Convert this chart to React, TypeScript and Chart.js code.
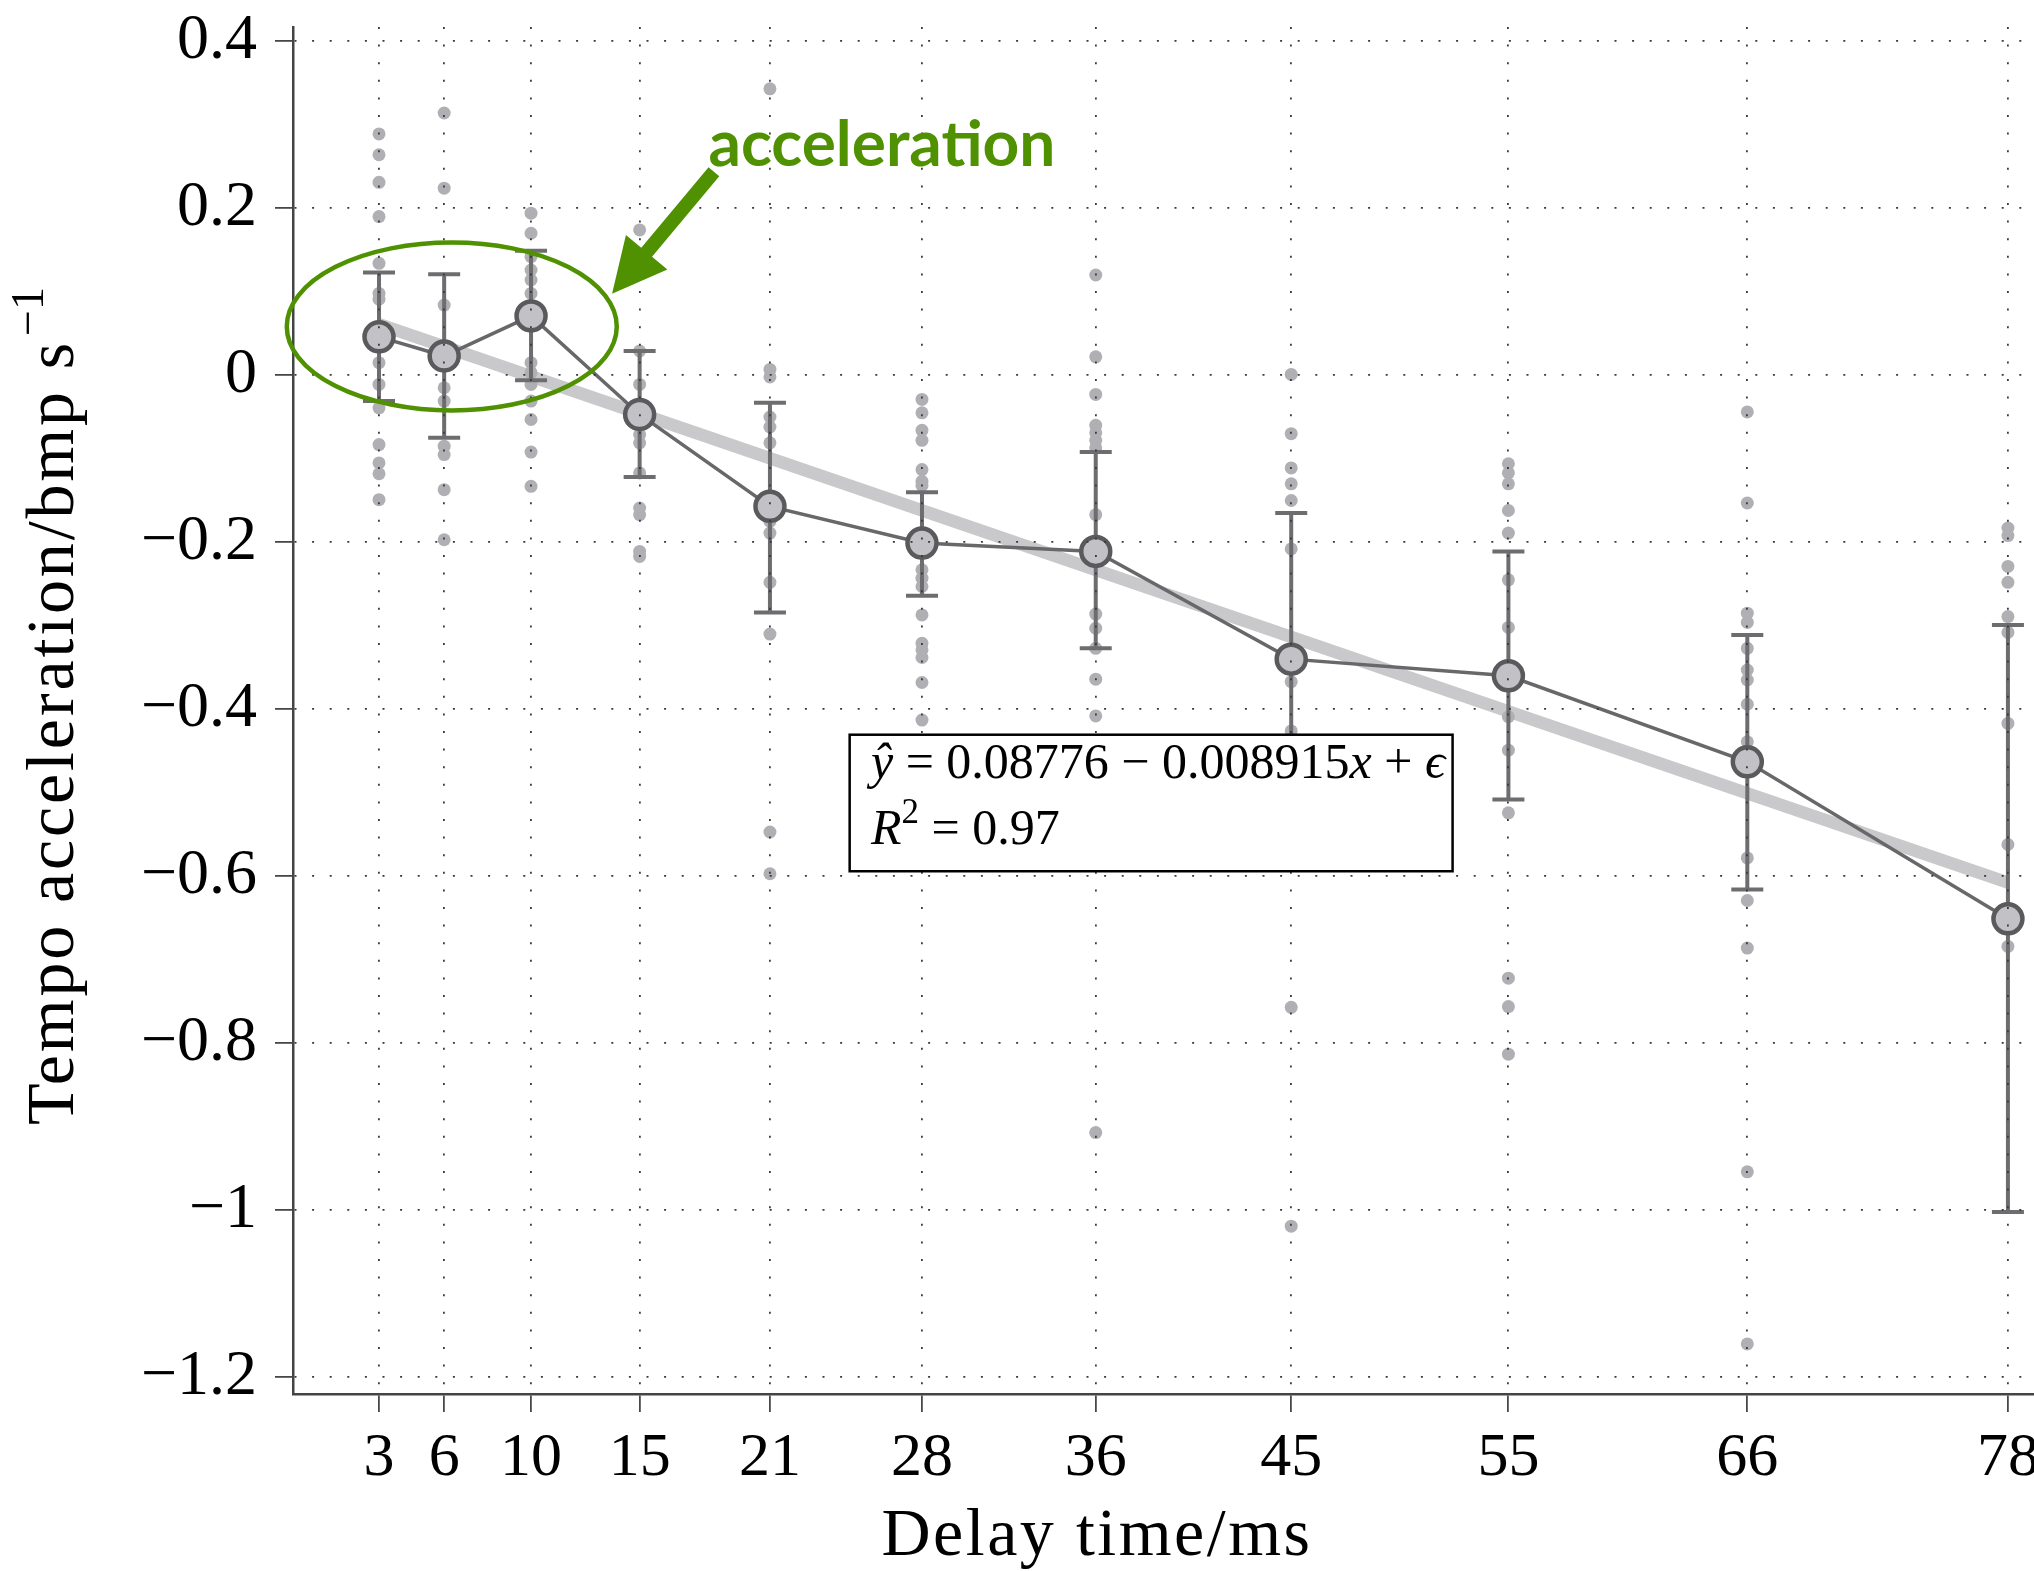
import React, { useEffect, useRef } from "react";
import { Chart, registerables } from "chart.js";

Chart.register(...registerables);

// ---------------- data ----------------
const delays = [3, 6, 10, 15, 21, 28, 36, 45, 55, 66, 78];
const meanAccel = [0.046, 0.023, 0.071, -0.047, -0.157, -0.201, -0.211, -0.34, -0.36, -0.463, -0.651];
const errUpper = [0.123, 0.121, 0.149, 0.029, -0.033, -0.14, -0.092, -0.165, -0.211, -0.311, -0.299];
const errLower = [-0.031, -0.075, -0.006, -0.122, -0.284, -0.264, -0.327, -0.515, -0.508, -0.616, -1.002];

const raw3 = [0.289, 0.264, 0.231, 0.19, 0.134, 0.098, 0.091, 0.015, -0.011, -0.039, -0.083, -0.105, -0.118, -0.149];
const raw6 = [0.314, 0.224, 0.084, -0.015, -0.031, -0.085, -0.095, -0.137, -0.197];
const raw10 = [0.194, 0.17, 0.142, 0.126, 0.114, 0.098, 0.015, 0.003, -0.011, -0.031, -0.053, -0.092, -0.133];
const raw15 = [0.174, 0.029, -0.011, -0.071, -0.081, -0.117, -0.159, -0.167, -0.211, -0.217];
const raw21 = [0.343, 0.007, -0.002, -0.05, -0.062, -0.081, -0.175, -0.189, -0.248, -0.31, -0.547, -0.597];
const raw28 = [-0.029, -0.045, -0.066, -0.078, -0.113, -0.127, -0.132, -0.233, -0.243, -0.253, -0.287, -0.321, -0.329, -0.338, -0.368, -0.413];
const raw36 = [0.12, 0.022, -0.023, -0.06, -0.069, -0.078, -0.087, -0.167, -0.286, -0.303, -0.327, -0.364, -0.408, -0.907];
const raw45 = [0.001, -0.07, -0.111, -0.13, -0.15, -0.208, -0.367, -0.426, -0.757, -1.019];
const raw55 = [-0.106, -0.117, -0.13, -0.162, -0.189, -0.245, -0.302, -0.409, -0.449, -0.524, -0.722, -0.756, -0.813];
const raw66 = [-0.044, -0.153, -0.285, -0.296, -0.327, -0.353, -0.365, -0.394, -0.439, -0.578, -0.629, -0.686, -0.954, -1.16];
const raw78 = [-0.183, -0.192, -0.229, -0.248, -0.289, -0.308, -0.417, -0.562, -0.684];
const rawByDelay = [raw3, raw6, raw10, raw15, raw21, raw28, raw36, raw45, raw55, raw66, raw78];

const yTickValues = [0.4, 0.2, 0, -0.2, -0.4, -0.6, -0.8, -1, -1.2];
const xTickValues = delays;

// fitted regression (from the equation shown in the chart)
const fitIntercept = 0.08776;
const fitSlope = -0.008915;
const fitRange = [3, 78];

const xTitle = "Delay time/ms";
const yTitle = "Tempo acceleration/bmp s";
const yTitleSup = "\u22121";
const annotationText = "acceleration";

// annotation anchors in data coordinates
const ellipseCenter = [6.35, 0.0584];
const arrowTail = [18.42, 0.2437];
const arrowTip = [13.73, 0.0976];
const annotationAnchor = [26.16, 0.251];
const boxTopLeft = [24.67, -0.4305];
const boxBottomRight = [52.43, -0.594];
const eqLine1Anchor = [25.65, -0.482];
const eqLine2Anchor = [25.65, -0.5615];

// ---------------- style ----------------
const W = 2034;
const H = 1571;
const SERIF = '"Liberation Serif", "Times New Roman", serif';
const GREEN = "#4f9100";

type Run = { t: string; it?: boolean; sup?: boolean };

function drawRuns(ctx: CanvasRenderingContext2D, runs: Run[], x: number, y: number, size: number) {
  let cx = x;
  for (const r of runs) {
    const s = r.sup ? size * 0.7 : size;
    ctx.font = `${r.it ? "italic " : ""}${s}px ${SERIF}`;
    ctx.fillText(r.t, cx, r.sup ? y - size * 0.42 : y);
    cx += ctx.measureText(r.t).width;
  }
}

const errorBarPlugin = {
  id: "errorBars",
  beforeDatasetDraw(chart: any, args: any) {
    if (args.index !== 0) return;
    const { ctx } = chart;
    const xs = chart.scales.x;
    const ys = chart.scales.y;
    ctx.save();
    ctx.strokeStyle = "#6d6d70";
    ctx.lineWidth = 4;
    delays.forEach((d, i) => {
      const px = xs.getPixelForValue(d);
      const pTop = ys.getPixelForValue(errUpper[i]);
      const pBot = ys.getPixelForValue(errLower[i]);
      ctx.beginPath();
      ctx.moveTo(px, pTop);
      ctx.lineTo(px, pBot);
      ctx.moveTo(px - 16, pTop);
      ctx.lineTo(px + 16, pTop);
      ctx.moveTo(px - 16, pBot);
      ctx.lineTo(px + 16, pBot);
      ctx.stroke();
    });
    ctx.restore();
  },
};

const annotationPlugin = {
  id: "annotations",
  afterDraw(chart: any) {
    const { ctx } = chart;
    const xs = chart.scales.x;
    const ys = chart.scales.y;
    const px = (v: number) => xs.getPixelForValue(v);
    const py = (v: number) => ys.getPixelForValue(v);
    ctx.save();

    // green ellipse
    ctx.strokeStyle = GREEN;
    ctx.lineWidth = 4.5;
    ctx.beginPath();
    ctx.ellipse(px(ellipseCenter[0]), py(ellipseCenter[1]), 165, 84, 0, 0, Math.PI * 2);
    ctx.stroke();

    // arrow
    const tx = px(arrowTail[0]);
    const ty = py(arrowTail[1]);
    const hx = px(arrowTip[0]);
    const hy = py(arrowTip[1]);
    const dx = hx - tx;
    const dy = hy - ty;
    const L = Math.hypot(dx, dy);
    const ux = dx / L;
    const uy = dy / L;
    const nx = -uy;
    const ny = ux;
    const headLen = 54;
    const headHalf = 27;
    const shaftHalf = 7;
    const bx = hx - ux * headLen;
    const by = hy - uy * headLen;
    ctx.fillStyle = GREEN;
    ctx.beginPath();
    ctx.moveTo(tx + nx * shaftHalf, ty + ny * shaftHalf);
    ctx.lineTo(bx + nx * shaftHalf, by + ny * shaftHalf);
    ctx.lineTo(bx + nx * headHalf, by + ny * headHalf);
    ctx.lineTo(hx, hy);
    ctx.lineTo(bx - nx * headHalf, by - ny * headHalf);
    ctx.lineTo(bx - nx * shaftHalf, by - ny * shaftHalf);
    ctx.lineTo(tx - nx * shaftHalf, ty - ny * shaftHalf);
    ctx.closePath();
    ctx.fill();

    // "acceleration"
    ctx.font = `bold 64px Lato, "Open Sans", sans-serif`;
    ctx.textAlign = "center";
    ctx.textBaseline = "alphabetic";
    ctx.fillText(annotationText, px(annotationAnchor[0]), py(annotationAnchor[1]));

    // equation box
    const bl = px(boxTopLeft[0]);
    const bt = py(boxTopLeft[1]);
    const br = px(boxBottomRight[0]);
    const bb = py(boxBottomRight[1]);
    ctx.fillStyle = "#ffffff";
    ctx.fillRect(bl, bt, br - bl, bb - bt);
    ctx.strokeStyle = "#000000";
    ctx.lineWidth = 2.5;
    ctx.strokeRect(bl, bt, br - bl, bb - bt);
    ctx.fillStyle = "#000000";
    ctx.textAlign = "left";
    drawRuns(
      ctx,
      [
        { t: "\u0177", it: true },
        { t: " = 0.08776 \u2212 0.008915" },
        { t: "x", it: true },
        { t: " + " },
        { t: "\u03F5", it: true },
      ],
      px(eqLine1Anchor[0]),
      py(eqLine1Anchor[1]),
      50
    );
    drawRuns(
      ctx,
      [{ t: "R", it: true }, { t: "2", sup: true }, { t: " = 0.97" }],
      px(eqLine2Anchor[0]),
      py(eqLine2Anchor[1]),
      50
    );

    // x title
    ctx.font = `68px ${SERIF}`;
    (ctx as any).letterSpacing = "0px";
    const wx = ctx.measureText(xTitle).width;
    const lsx = (431 - wx) / xTitle.length;
    (ctx as any).letterSpacing = `${lsx}px`;
    ctx.textAlign = "center";
    ctx.textBaseline = "alphabetic";
    ctx.fillText(xTitle, 1097, 1555);

    // y title (rotated, with superscript)
    ctx.save();
    ctx.translate(73, 1125);
    ctx.rotate(-Math.PI / 2);
    ctx.textAlign = "left";
    ctx.font = `68px ${SERIF}`;
    (ctx as any).letterSpacing = "0px";
    const wy = ctx.measureText(yTitle).width;
    const lsy = (785 - wy) / yTitle.length;
    (ctx as any).letterSpacing = `${lsy}px`;
    ctx.fillText(yTitle, 0, 0);
    const wy2 = ctx.measureText(yTitle).width;
    (ctx as any).letterSpacing = "0px";
    ctx.font = `46px ${SERIF}`;
    ctx.fillText(yTitleSup, wy2 + 4, -30);
    ctx.restore();

    ctx.restore();
  },
};

function fmtY(v: number): string {
  if (v === 0) return "0";
  const s = String(Math.abs(Math.round(v * 10) / 10));
  return v < 0 ? "\u2212" + s : s;
}

export default function App() {
  const ref = useRef<HTMLCanvasElement>(null);

  useEffect(() => {
    const canvas = ref.current;
    if (!canvas) return;

    const rawPoints = delays.flatMap((d, i) => rawByDelay[i].map((v) => ({ x: d, y: v })));
    const meanPoints = delays.map((d, i) => ({ x: d, y: meanAccel[i] }));
    const fitPoints = fitRange.map((x) => ({ x, y: fitIntercept + fitSlope * x }));

    const gridCommon = {
      color: "#3a3a3a",
      lineWidth: 1.8,
      z: 1,
      tickLength: 18,
      tickColor: "#333333",
      tickWidth: 1.6,
      tickBorderDash: [],
    };
    const borderCommon = {
      display: true,
      color: "#444444",
      width: 2.5,
      dash: [2, 15.6],
      z: 1,
    };

    const chart = new Chart(canvas, {
      type: "scatter",
      data: {
        datasets: [
          {
            type: "line",
            label: "mean",
            data: meanPoints,
            borderColor: "#68686b",
            borderWidth: 3.5,
            pointRadius: 14.5,
            pointHoverRadius: 14.5,
            pointBackgroundColor: "#c2c2c6",
            pointBorderColor: "#5a5a5d",
            pointBorderWidth: 4.5,
            order: 0,
          } as any,
          {
            type: "scatter",
            label: "trials",
            data: rawPoints,
            pointRadius: 6.5,
            pointHoverRadius: 6.5,
            backgroundColor: "#b0b0b4",
            borderWidth: 0,
            order: 2,
          } as any,
          {
            type: "line",
            label: "fit",
            data: fitPoints,
            borderColor: "#c9c9cb",
            borderWidth: 12.5,
            pointRadius: 0,
            order: 3,
          } as any,
        ],
      },
      options: {
        animation: false,
        responsive: false,
        devicePixelRatio: 1,
        events: [],
        layout: { autoPadding: false, padding: { top: 27, left: 0, right: 0, bottom: 0 } },
        plugins: {
          legend: { display: false },
          tooltip: { enabled: false },
          title: { display: false },
        },
        scales: {
          x: {
            type: "linear",
            min: -0.96,
            max: 79.2,
            afterBuildTicks: (s: any) => {
              s.ticks = xTickValues.map((v) => ({ value: v }));
            },
            afterFit: (s: any) => {
              s.height = 177;
              s.paddingLeft = 0;
              s.paddingRight = 0;
            },
            ticks: {
              autoSkip: false,
              maxRotation: 0,
              minRotation: 0,
              padding: 10,
              color: "#000000",
              font: { family: SERIF, size: 62 },
              callback: (v: any) => String(v),
            },
            grid: gridCommon as any,
            border: borderCommon as any,
          },
          y: {
            type: "linear",
            min: -1.22,
            max: 0.417,
            afterBuildTicks: (s: any) => {
              s.ticks = yTickValues.map((v) => ({ value: v }));
            },
            afterFit: (s: any) => {
              s.width = 293;
              s.paddingTop = 0;
              s.paddingBottom = 0;
            },
            ticks: {
              padding: 18,
              color: "#000000",
              font: { family: SERIF, size: 64 },
              callback: (v: any) => fmtY(Number(v)),
            },
            grid: gridCommon as any,
            border: borderCommon as any,
          },
        },
      } as any,
      plugins: [errorBarPlugin, annotationPlugin],
    });

    return () => chart.destroy();
  }, []);

  return (
    <div style={{ position: "absolute", left: 0, top: 0, width: W, height: H, background: "#ffffff" }}>
      <canvas ref={ref} width={W} height={H} style={{ display: "block", width: W, height: H }} />
    </div>
  );
}
